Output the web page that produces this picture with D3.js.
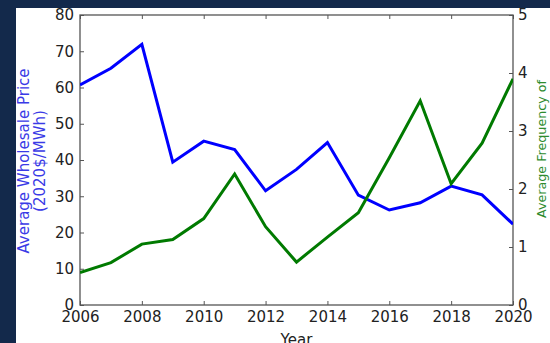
<!DOCTYPE html>
<html>
<head>
<meta charset="utf-8">
<script src="https://cdn.jsdelivr.net/npm/d3@7"></script>
<style>
  html, body { margin: 0; padding: 0; background: #13294b; }
  svg { display: block; }
  text { font-family: "DejaVu Sans", sans-serif; }
</style>
</head>
<body>
<svg id="chart" width="550" height="343"></svg>
<script>
// ---- data ----
const years = [2006, 2007, 2008, 2009, 2010, 2011, 2012, 2013, 2014, 2015, 2016, 2017, 2018, 2019, 2020];
const priceValues = [60.7, 65.3, 71.9, 39.4, 45.2, 42.9, 31.5, 37.4, 44.8, 30.3, 26.2, 28.2, 32.8, 30.4, 22.3];
const freqValues = [0.56, 0.73, 1.05, 1.13, 1.49, 2.26, 1.35, 0.74, 1.17, 1.59, 2.54, 3.52, 2.09, 2.79, 3.9];
const xTicks = [2006, 2008, 2010, 2012, 2014, 2016, 2018, 2020];
const leftTicks = [0, 10, 20, 30, 40, 50, 60, 70, 80];
const rightTicks = [0, 1, 2, 3, 4, 5];
const xLabel = "Year";
const leftLabelLines = ["Average Wholesale Price", "(2020$/MWh)"];
const rightLabel = "Average Frequency of";

// ---- layout ----
const svg = d3.select("#chart");
const W = 550, H = 343;
const plot = { left: 80, right: 513, top: 15, bottom: 305 };

svg.append("rect").attr("x", 0).attr("y", 0).attr("width", W).attr("height", H).attr("fill", "#13294b");
svg.append("rect").attr("x", 16).attr("y", 8).attr("width", W - 16).attr("height", H - 8).attr("fill", "#ffffff");

const x = d3.scaleLinear().domain([2006, 2020]).range([plot.left, plot.right]);
const yL = d3.scaleLinear().domain([0, 80]).range([plot.bottom, plot.top]);
const yR = d3.scaleLinear().domain([0, 5]).range([plot.bottom, plot.top]);

const tickColor = "#222";
const spineColor = "#555";
const fs = 15;

function styleAxis(g) {
  g.select(".domain").remove();
  g.selectAll(".tick line").attr("stroke", spineColor).attr("stroke-width", 1);
  g.selectAll(".tick text").attr("fill", tickColor).style("font-size", fs + "px")
    .style("font-family", "'DejaVu Sans', sans-serif");
}

// bottom axis
svg.append("g").attr("transform", `translate(0,${plot.bottom})`)
  .call(d3.axisBottom(x).tickValues(xTicks).tickFormat(d3.format("d")).tickSizeInner(-4).tickSizeOuter(0).tickPadding(6))
  .call(styleAxis);
// top ticks
svg.append("g").attr("transform", `translate(0,${plot.top})`)
  .call(d3.axisTop(x).tickValues(xTicks).tickFormat("").tickSizeInner(-4).tickSizeOuter(0))
  .call(styleAxis);
// left axis
svg.append("g").attr("transform", `translate(${plot.left},0)`)
  .call(d3.axisLeft(yL).tickValues(leftTicks).tickFormat(d3.format("d")).tickSizeInner(-4).tickSizeOuter(0).tickPadding(6))
  .call(styleAxis);
// right axis
svg.append("g").attr("transform", `translate(${plot.right},0)`)
  .call(d3.axisRight(yR).tickValues(rightTicks).tickFormat(d3.format("d")).tickSizeInner(-4).tickSizeOuter(0).tickPadding(5))
  .call(styleAxis);

// frame
svg.append("rect")
  .attr("x", plot.left).attr("y", plot.top)
  .attr("width", plot.right - plot.left).attr("height", plot.bottom - plot.top)
  .attr("fill", "none").attr("stroke", spineColor).attr("stroke-width", 1.3);

// lines
const clip = svg.append("clipPath").attr("id", "clip").append("rect")
  .attr("x", plot.left).attr("y", plot.top - 3)
  .attr("width", plot.right - plot.left).attr("height", plot.bottom - plot.top + 6);

const priceLine = d3.line().x((d, i) => x(years[i])).y(d => yL(d));
const freqLine = d3.line().x((d, i) => x(years[i])).y(d => yR(d));

svg.append("path").datum(priceValues)
  .attr("d", priceLine).attr("fill", "none")
  .attr("stroke", "#0000ff").attr("stroke-width", 3).attr("stroke-linejoin", "miter")
  .attr("clip-path", "url(#clip)");
svg.append("path").datum(freqValues)
  .attr("d", freqLine).attr("fill", "none")
  .attr("stroke", "#007a00").attr("stroke-width", 3).attr("stroke-linejoin", "miter")
  .attr("clip-path", "url(#clip)");

// axis labels
svg.append("text").attr("x", (plot.left + plot.right) / 2).attr("y", 345)
  .attr("text-anchor", "middle").attr("fill", tickColor).style("font-size", "15px").text(xLabel);

const leftLabel = svg.append("text")
  .attr("transform", `translate(0,161) rotate(-90)`)
  .attr("text-anchor", "middle").attr("fill", "#3a3ae6").style("font-size", "15px");
leftLabel.selectAll("tspan").data(leftLabelLines).join("tspan")
  .attr("x", 0).attr("y", (d, i) => 29 + i * 15.5).text(d => d);

svg.append("text")
  .attr("transform", `translate(546,149) rotate(-90)`)
  .attr("text-anchor", "middle").attr("fill", "#2e8b2e").style("font-size", "12.7px")
  .text(rightLabel);
</script>
</body>
</html>
